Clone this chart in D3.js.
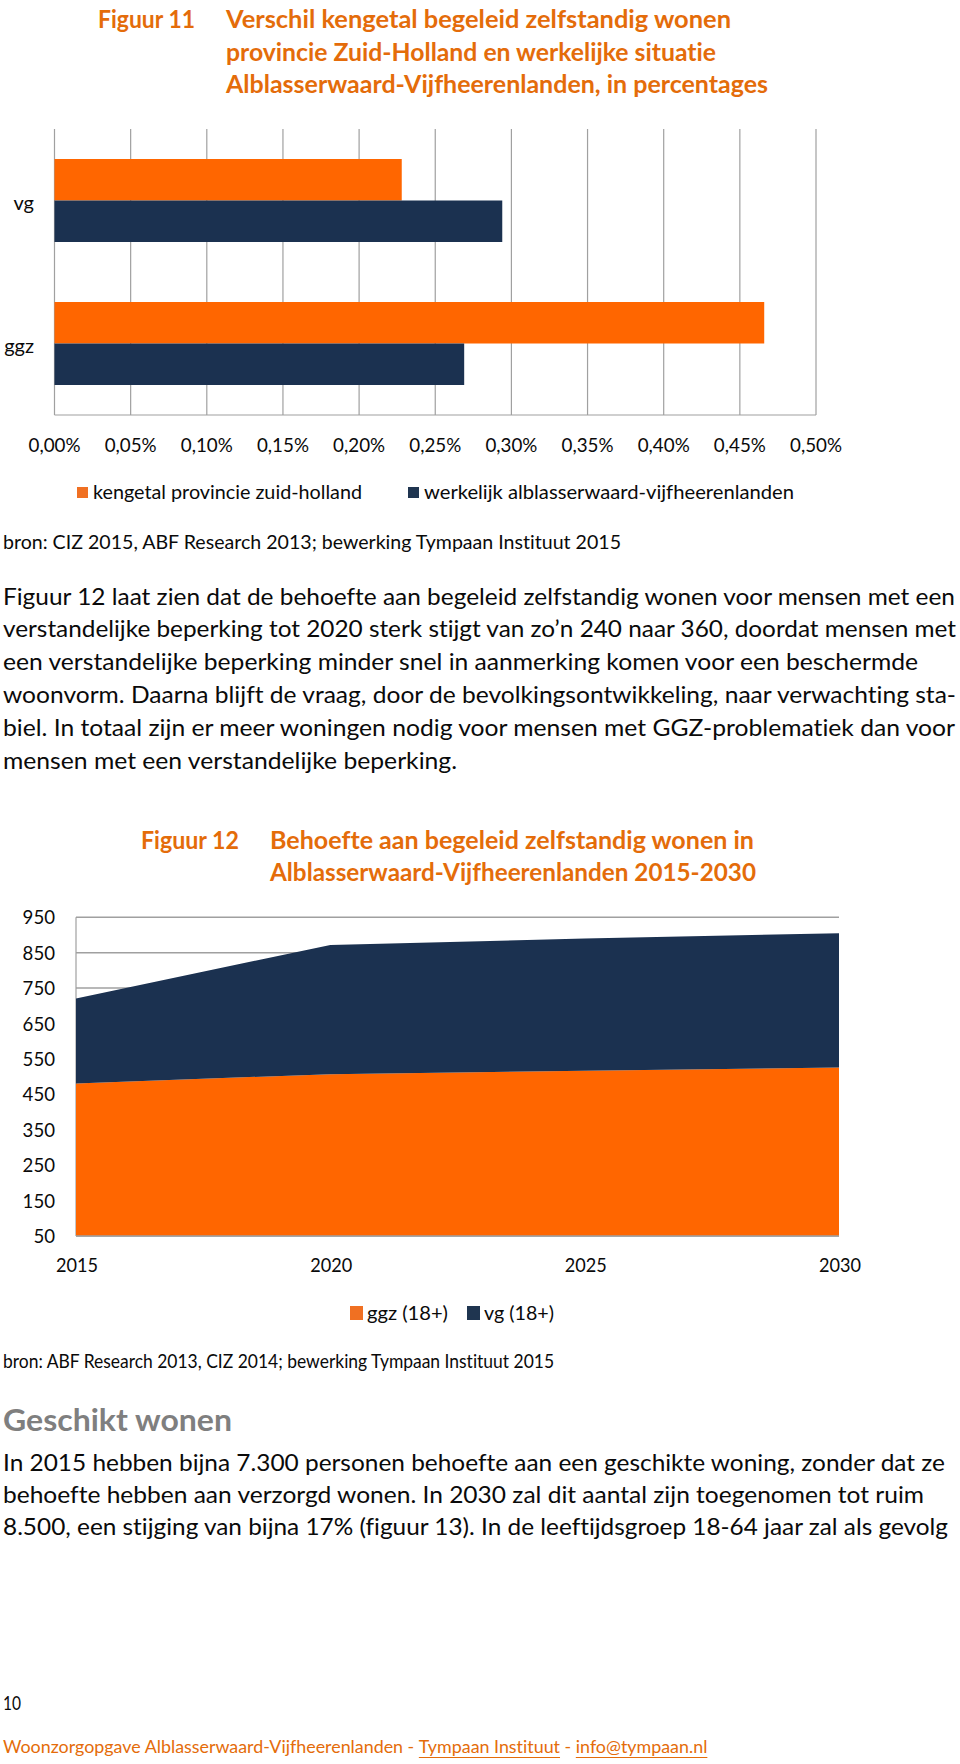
<!DOCTYPE html>
<html><head><meta charset="utf-8">
<script src="https://cdn.jsdelivr.net/npm/d3@7"></script>
<style>
body{margin:0;background:#fff}
svg{display:block}
text{font-family:Lato,"Open Sans","DejaVu Sans",sans-serif;font-variant-ligatures:none;font-feature-settings:"liga" 0,"clig" 0}
</style>
</head><body>
<svg id="page" width="960" height="1764"></svg>
<script>
// ---------- DATA ----------
// Figuur 11 (values in percent)
const fig11Categories = ["vg", "ggz"];
const fig11SeriesNames = ["kengetal provincie zuid-holland", "werkelijk alblasserwaard-vijfheerenlanden"];
const fig11Kengetal = [0.228, 0.466];
const fig11Werkelijk = [0.294, 0.269];
const fig11Ticks = [0, 0.05, 0.10, 0.15, 0.20, 0.25, 0.30, 0.35, 0.40, 0.45, 0.50];

// Figuur 12
const fig12Years = [2015, 2020, 2025, 2030];
const fig12Ggz = [481, 507, 517, 526];
const fig12Vg = [240, 365, 373, 379];
const fig12YTicks = [50, 150, 250, 350, 450, 550, 650, 750, 850, 950];
const fig12XTicks = [2015, 2020, 2025, 2030];
const fig12SeriesNames = ["ggz (18+)", "vg (18+)"];

// ---------- STYLE ----------
const ORANGE = "#FF6600";
const NAVY = "#1B3150";
const TITLE_ORANGE = "#E46C0A";
const GRID = "#A0A0A0";
const TEXT = "#0a0a0a";

const svg = d3.select("#page");
svg.append("rect").attr("width", 960).attr("height", 1764).attr("fill", "#fff");

function txt(x, y, s, o = {}) {
  const t = svg.append("text")
    .attr("x", x).attr("y", y).attr("dy", "0.35em")
    .attr("font-size", o.size || 21)
    .attr("font-weight", o.weight || "normal")
    .attr("fill", o.fill || TEXT)
    .attr("text-anchor", o.anchor || "start")
    .text(s);
  if (o.width) t.attr("textLength", o.width).attr("lengthAdjust", "spacingAndGlyphs");
  return t;
}

// ---------- FIGUUR 11 TITLE ----------
txt(98, 19, "Figuur 11", {size: 25, weight: "bold", fill: TITLE_ORANGE, width: 97});
txt(226, 19, "Verschil  kengetal begeleid zelfstandig wonen", {size: 25, weight: "bold", fill: TITLE_ORANGE, width: 505});
txt(226, 52, "provincie Zuid-Holland en werkelijke situatie", {size: 25, weight: "bold", fill: TITLE_ORANGE, width: 490});
txt(226, 84, "Alblasserwaard-Vijfheerenlanden, in percentages", {size: 25, weight: "bold", fill: TITLE_ORANGE, width: 542});

// ---------- FIGUUR 11 CHART ----------
const x1 = d3.scaleLinear().domain([0, 0.5]).range([54.5, 816]);
const y1 = d3.scaleBand().domain(fig11Categories).range([129, 415]).padding(0);
const sub1 = d3.scaleBand().domain([0, 1]).range([0, y1.bandwidth()]).paddingInner(0).paddingOuter(0.723);

const g1 = svg.append("g");
g1.selectAll("line.grid").data(fig11Ticks).join("line")
  .attr("x1", d => x1(d)).attr("x2", d => x1(d))
  .attr("y1", 129).attr("y2", 415)
  .attr("stroke", GRID).attr("stroke-width", 1.2);
g1.append("line").attr("x1", x1(0)).attr("x2", x1(0.5)).attr("y1", 415).attr("y2", 415)
  .attr("stroke", GRID).attr("stroke-width", 1.2);

const fig11Rows = fig11Categories.map((c, i) => ({cat: c, vals: [fig11Kengetal[i], fig11Werkelijk[i]]}));
const colors1 = [ORANGE, NAVY];
fig11Rows.forEach(r => {
  r.vals.forEach((v, j) => {
    g1.append("rect")
      .attr("x", x1(0)).attr("y", y1(r.cat) + sub1(j))
      .attr("width", x1(v) - x1(0)).attr("height", sub1.bandwidth())
      .attr("fill", colors1[j]);
  });
});

fig11Categories.forEach(c => {
  txt(34, y1(c) + y1.bandwidth() / 2 + 2, c, {size: 20, anchor: "end"});
});

const nlLocale = d3.formatLocale({decimal: ",", thousands: ".", grouping: [3], currency: ["€", ""]});
const fmt2 = nlLocale.format(".2f");
fig11Ticks.forEach(t => {
  txt(x1(t), 445, fmt2(t) + "%", {size: 19, anchor: "middle", width: 52});
});

// legend 1
svg.append("rect").attr("x", 77).attr("y", 487).attr("width", 11).attr("height", 11).attr("fill", "#F07022");
txt(93, 492, fig11SeriesNames[0], {size: 20, width: 269});
svg.append("rect").attr("x", 408).attr("y", 487).attr("width", 11).attr("height", 11).attr("fill", "#1F3550");
txt(424, 492, fig11SeriesNames[1], {size: 20, width: 370});

// source 1
txt(3, 542, "bron: CIZ 2015, ABF Research 2013; bewerking Tympaan Instituut 2015", {size: 19, width: 618});

// ---------- PARAGRAPH 1 ----------
const para1 = [
  ["Figuur 12 laat zien dat de behoefte aan begeleid zelfstandig wonen voor mensen met een", 952],
  ["verstandelijke beperking tot 2020 sterk stijgt van zo’n 240 naar 360, doordat mensen met", 953],
  ["een verstandelijke beperking minder snel in aanmerking komen voor een beschermde", 915],
  ["woonvorm. Daarna blijft de vraag, door de bevolkingsontwikkeling, naar verwachting sta-", 953],
  ["biel. In totaal zijn er meer woningen nodig voor mensen met GGZ-problematiek dan voor", 952],
  ["mensen met een verstandelijke beperking.", 454]
];
para1.forEach((l, i) => txt(3, 596.5 + i * 32.8, l[0], {size: 23, width: l[1]}));

// ---------- FIGUUR 12 TITLE ----------
txt(141, 840, "Figuur 12", {size: 25, weight: "bold", fill: TITLE_ORANGE, width: 98});
txt(270, 840, "Behoefte aan begeleid zelfstandig wonen in", {size: 25, weight: "bold", fill: TITLE_ORANGE, width: 484});
txt(270, 872, "Alblasserwaard-Vijfheerenlanden 2015-2030", {size: 25, weight: "bold", fill: TITLE_ORANGE, width: 486});

// ---------- FIGUUR 12 CHART ----------
const x2 = d3.scaleLinear().domain([2015, 2030]).range([76, 839]);
const y2 = d3.scaleLinear().domain([50, 950]).range([1236, 917.3]);
const g2 = svg.append("g");

g2.selectAll("line.hgrid").data(fig12YTicks).join("line")
  .attr("x1", x2(2015)).attr("x2", x2(2030))
  .attr("y1", d => y2(d)).attr("y2", d => y2(d))
  .attr("stroke", GRID).attr("stroke-width", 1.5);
g2.append("line").attr("x1", x2(2015)).attr("x2", x2(2015)).attr("y1", y2(950)).attr("y2", y2(50))
  .attr("stroke", GRID).attr("stroke-width", 1.2);

const rows2 = fig12Years.map((yr, i) => ({year: yr, ggz: fig12Ggz[i], vg: fig12Vg[i]}));
const stack = d3.stack().keys(["ggz", "vg"])(rows2);
svg.append("clipPath").attr("id", "clip2").append("rect")
  .attr("x", x2(2015)).attr("y", y2(950)).attr("width", x2(2030) - x2(2015)).attr("height", y2(50) - y2(950));
const area = d3.area()
  .x(d => x2(d.data.year))
  .y0(d => y2(d[0]))
  .y1(d => y2(d[1]));
const colors2 = [ORANGE, NAVY];
g2.append("g").attr("clip-path", "url(#clip2)")
  .selectAll("path").data(stack).join("path")
  .attr("d", area).attr("fill", (d, i) => colors2[i]);

g2.append("line").attr("x1", x2(2015)).attr("x2", x2(2030)).attr("y1", y2(50)).attr("y2", y2(50))
  .attr("stroke", GRID).attr("stroke-width", 1.5);

fig12YTicks.forEach(t => txt(55, y2(t), String(t), {size: 20, anchor: "end", width: String(t).length * 10.8}));
fig12XTicks.forEach(t => txt(x2(t) + 1, 1265, String(t), {size: 20, anchor: "middle", width: 42}));

// legend 2
svg.append("rect").attr("x", 350).attr("y", 1306).attr("width", 13).attr("height", 14).attr("fill", "#F07022");
txt(367, 1313, fig12SeriesNames[0], {size: 20, width: 81});
svg.append("rect").attr("x", 467).attr("y", 1306).attr("width", 13).attr("height", 14).attr("fill", "#1F3550");
txt(484, 1313, fig12SeriesNames[1], {size: 20, width: 70});

// source 2
txt(3, 1361.5, "bron: ABF Research 2013, CIZ 2014; bewerking Tympaan Instituut 2015", {size: 19, width: 551});

// ---------- SECTION ----------
txt(3, 1420, "Geschikt wonen", {size: 31, weight: "bold", fill: "#7F7F7F", width: 229});
const para2 = [
  ["In 2015 hebben bijna 7.300 personen behoefte aan een geschikte woning, zonder dat ze", 942],
  ["behoefte hebben aan verzorgd wonen. In 2030 zal dit aantal zijn toegenomen tot ruim", 921],
  ["8.500, een stijging van bijna 17% (figuur 13). In de leeftijdsgroep 18-64 jaar zal als gevolg", 945]
];
para2.forEach((l, i) => txt(3, 1463 + i * 32, l[0], {size: 23, width: l[1]}));

// ---------- FOOTER ----------
txt(3, 1703, "10", {size: 19, width: 18});
const FOOT = "#E46C0A";
const footParts = [
  ["Woonzorgopgave Alblasserwaard-Vijfheerenlanden - ", false],
  ["Tympaan Instituut", true],
  [" - ", false],
  ["info@tympaan.nl", true]
];
// measure natural width, then fit font size to target width
const probe = svg.append("text").attr("font-size", 19).style("white-space", "pre")
  .text(footParts.map(p => p[0]).join(""));
const natural = probe.node().getComputedTextLength();
probe.remove();
const footSize = 19 * 704 / natural;
let fx = 3;
footParts.forEach(p => {
  const t = svg.append("text").attr("x", fx).attr("y", 1747).attr("dy", "0.35em")
    .attr("font-size", footSize).attr("fill", FOOT).style("white-space", "pre").text(p[0]);
  const w = t.node().getComputedTextLength();
  if (p[1]) {
    svg.append("line").attr("x1", fx).attr("x2", fx + w).attr("y1", 1757.5).attr("y2", 1757.5)
      .attr("stroke", FOOT).attr("stroke-width", 1);
  }
  fx += w;
});
</script>
</body></html>
